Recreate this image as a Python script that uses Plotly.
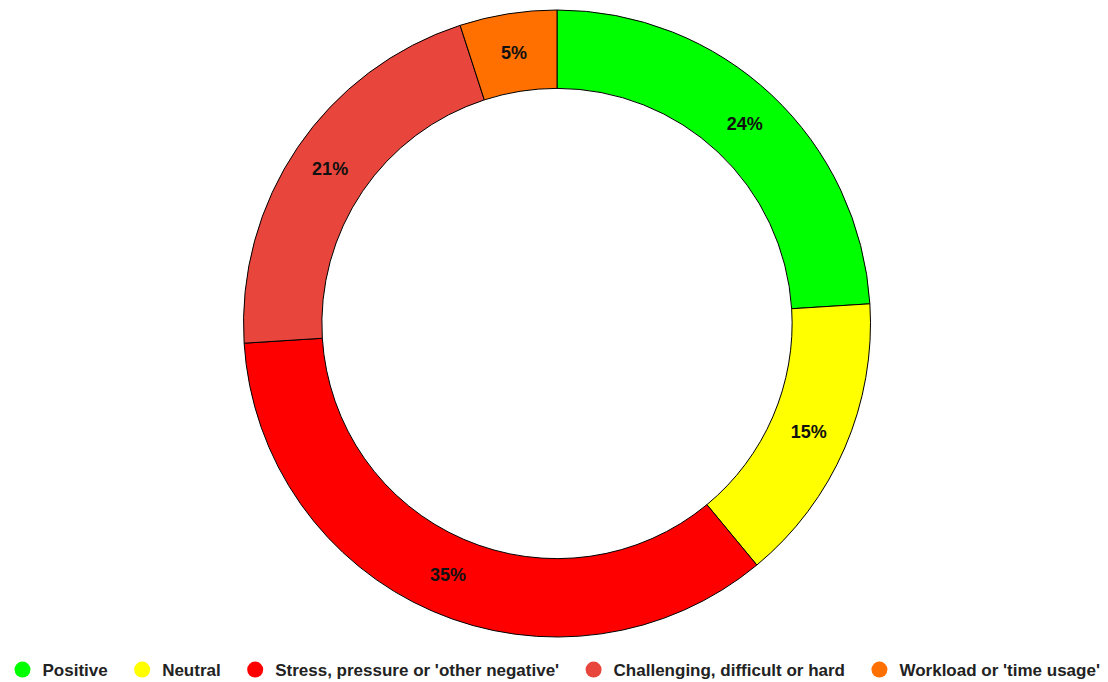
import plotly.graph_objects as go

# Response categories and their share of answers (percent)
categories = ["Positive", "Neutral", "Stress, pressure or 'other negative'",
              "Challenging, difficult or hard", "Workload or 'time usage'"]
shares = [24, 15, 35, 21, 5]
colors = ["#00FF00", "#FFFF00", "#FF0000", "#E8453C", "#FF7000"]

FONT = "Liberation Sans, Arial, sans-serif"
W, H = 1108, 682

fig = go.Figure()

fig.add_trace(go.Pie(
    labels=categories,
    values=shares,
    hole=0.75,
    sort=False,
    direction="clockwise",
    rotation=0,
    domain=dict(x=[243.5 / W, 870.5 / W], y=[1 - 637 / H, 1 - 10 / H]),
    marker=dict(colors=colors, line=dict(color="#000000", width=1)),
    texttemplate="<b>%{percent:.0%}</b>",
    textposition="inside",
    insidetextorientation="horizontal",
    textfont=dict(family=FONT, size=18, color="#111111"),
    showlegend=False,
    hoverinfo="label+percent",
))

# Circle markers for the legend row; a little padding after each entry
pad = "\u00a0\u00a0"
for i, (name, col) in enumerate(zip(categories, colors)):
    fig.add_trace(go.Scatter(
        x=[None], y=[None], mode="markers",
        name=name + (pad if i < len(categories) - 1 else ""),
        marker=dict(symbol="circle", size=17, color=col),
        showlegend=True,
    ))

fig.update_layout(
    width=W, height=H,
    margin=dict(l=0, r=0, t=0, b=0, autoexpand=False),
    paper_bgcolor="white",
    plot_bgcolor="white",
    xaxis=dict(visible=False),
    yaxis=dict(visible=False),
    legend=dict(
        orientation="h",
        x=0.5, xanchor="center",
        y=1 - 670 / H, yanchor="middle",
        font=dict(family=FONT, size=17, color="#222222", weight="bold"),
        bgcolor="rgba(0,0,0,0)",
    ),
)

fig.write_html("out.html")
